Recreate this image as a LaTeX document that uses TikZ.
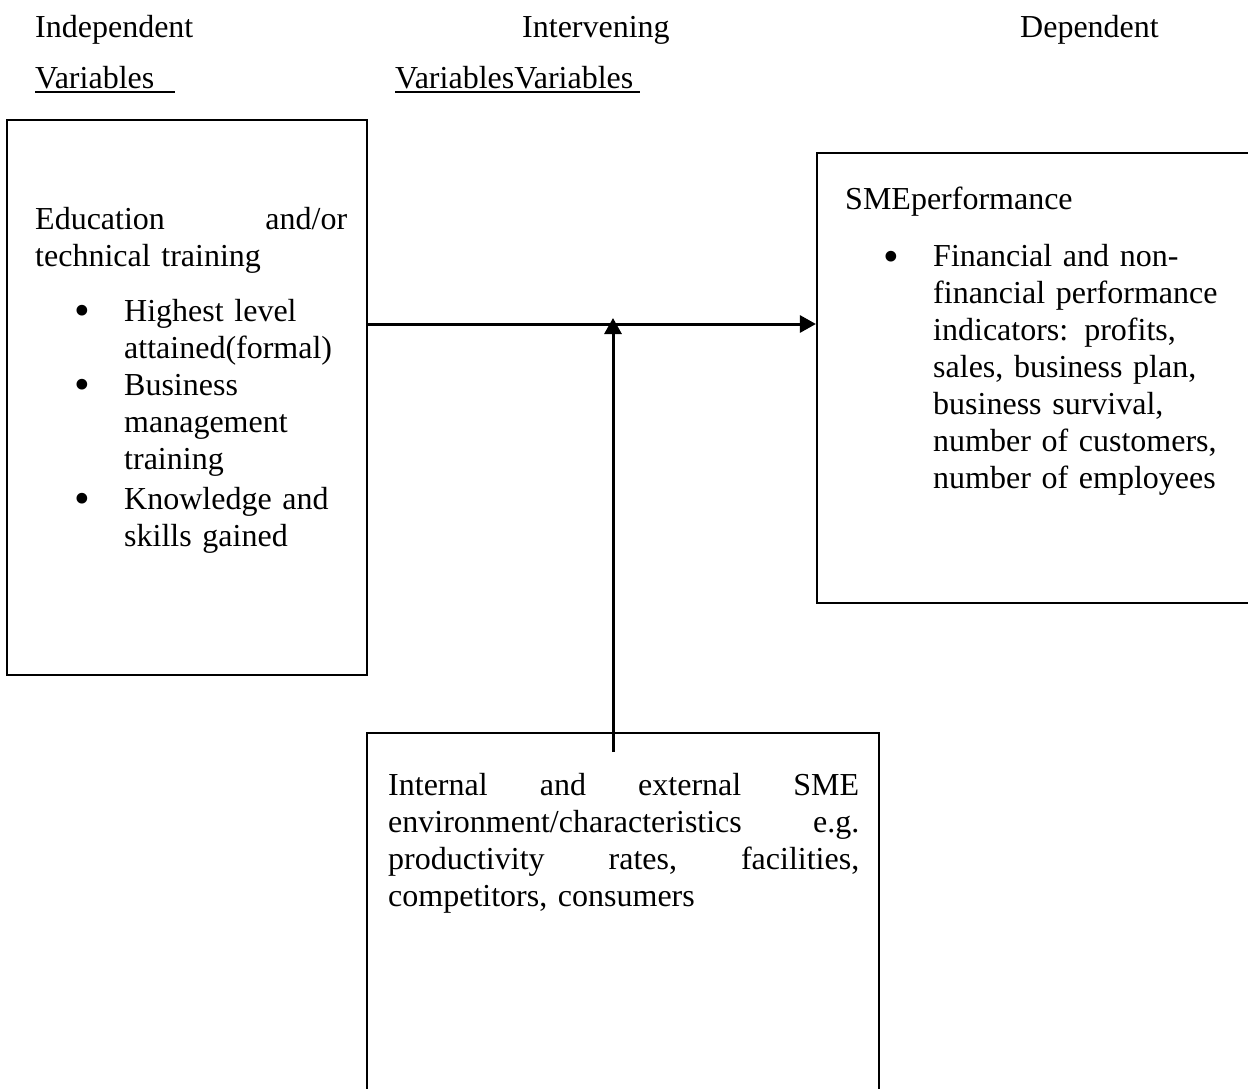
\documentclass[tikz,border=0pt]{standalone}
\usepackage{fontspec}
\usepackage{graphicx}
\setmainfont{Liberation Serif}
\usetikzlibrary{arrows.meta}
\newcommand{\mybul}{\raisebox{-4.5pt}{\scalebox{1.4}{\textbullet}}}
\begin{document}
\begin{tikzpicture}[x=1pt,y=-1pt,
  box/.style={draw, line width=2.2pt, inner sep=0pt},
  conn/.style={line width=3pt, -{Triangle[length=16pt,width=17pt]}},
  hdr/.style={inner sep=0pt, anchor=base west, font=\fontsize{32}{37}\selectfont},
  txt/.style={inner sep=0pt, anchor=north west, align=left, font=\fontsize{32}{37}\selectfont},
  uline/.style={line width=1.6pt}
]
\useasboundingbox (0,0) rectangle (1248,1088);
\clip (0,0) rectangle (1248,1088);
\fill[white] (0,0) rectangle (1248,1088);

% headers
\node[hdr] (h1) at (35,37) {Independent};
\node[hdr] (h2) at (522,37) {Intervening};
\node[hdr] (h3) at (1020,37) {Dependent};
\node[hdr] (v1) at (35,88) {Variables};
\node[hdr] (v2) at (395,88) {VariablesVariables};
\draw[uline] (v1.base west) ++(0,4) -- (175,92);
\draw[uline] (v2.base west) ++(0,4) -- (640,92);

% boxes
\node[box, minimum width=360, minimum height=555] (indep) at (187,397.5) {};
\node[box, minimum width=460, minimum height=450] (dep) at (1047,378) {};
\node[box, minimum width=512, minimum height=380] (interv) at (623,923) {};

% texts
\node[txt, text width=312pt] (t1) at (35,207) {%
\makebox[312pt][l]{Education\hfill and/or}\\
technical training\\[18pt]
\hspace*{39pt}\makebox[50pt][l]{\mybul}Highest level\\
\hspace*{89pt}attained(formal)\\
\hspace*{39pt}\makebox[50pt][l]{\mybul}Business\\
\hspace*{89pt}management\\
\hspace*{89pt}training\\[3pt]
\hspace*{39pt}\makebox[50pt][l]{\mybul}Knowledge and\\
\hspace*{89pt}skills gained};

\node[txt, text width=400pt] (t2) at (845,187) {%
SMEperformance\\[20pt]
\hspace*{38pt}\makebox[50pt][l]{\mybul}Financial and non-\\
\hspace*{88pt}financial performance\\
\hspace*{88pt}indicators: profits,\\
\hspace*{88pt}sales, business plan,\\
\hspace*{88pt}business survival,\\
\hspace*{88pt}number of customers,\\
\hspace*{88pt}number of employees};

\node[txt, text width=471pt] (t3) at (388,773) {%
\makebox[471pt][l]{Internal\hfill and\hfill external\hfill SME}\\
\makebox[471pt][l]{environment/characteristics\hfill e.g.}\\
\makebox[471pt][l]{productivity\hfill rates,\hfill facilities,}\\
competitors, consumers};

% connectors
\coordinate (hy) at (0,324);
\draw[conn] (indep.east |- hy) -- (dep.west |- hy);
\coordinate (vstart) at (613,752);
\coordinate (vtip) at (613,318);
\draw[conn] (vstart) -- (vtip);
\end{tikzpicture}
\end{document}
